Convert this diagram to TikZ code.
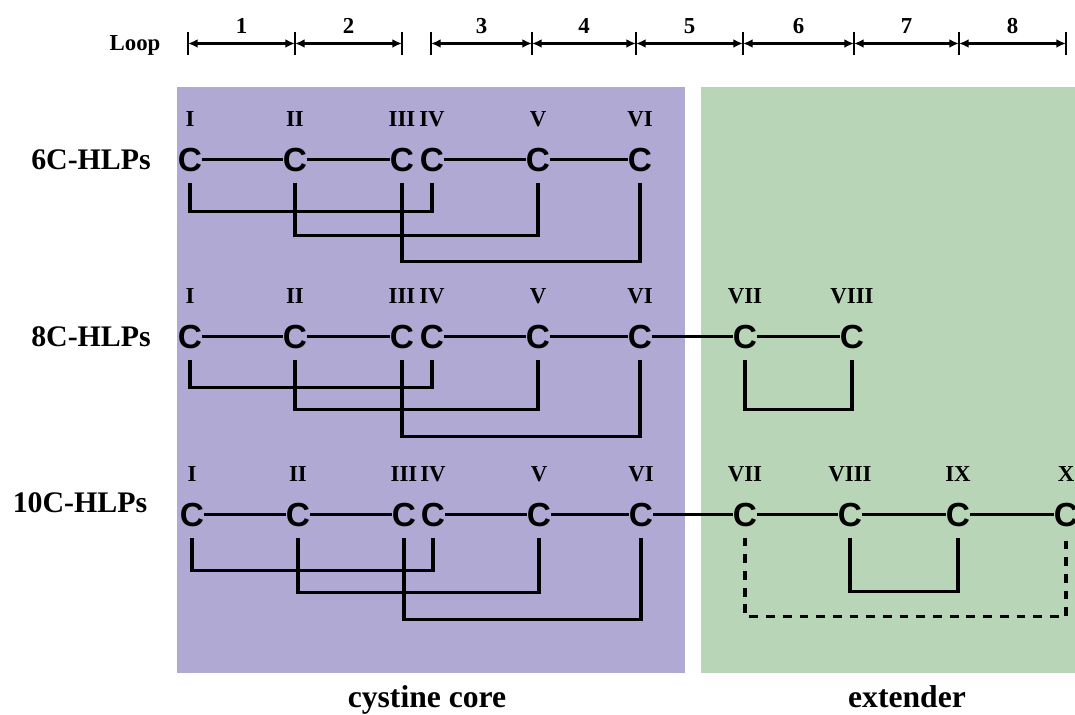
\documentclass[tikz,border=0pt]{standalone}
\usepackage{fontspec}
\setmainfont{Liberation Serif}
\newfontfamily\cysfont{Liberation Sans}
\usetikzlibrary{arrows.meta, positioning}

\definecolor{corebg}{RGB}{176,169,212}
\definecolor{extbg}{RGB}{185,213,184}

\tikzset{
  cys/.style = {inner sep=0pt, font=\cysfont\bfseries\fontsize{19}{22}\selectfont},
  num/.style = {inner sep=0pt, font=\bfseries\fontsize{13}{15}\selectfont},
  rowname/.style = {inner sep=0pt, font=\bfseries\fontsize{17}{20}\selectfont},
  panelname/.style = {inner sep=0pt, anchor=base, font=\bfseries\fontsize{18}{21}\selectfont},
  bond/.style = {line width=1.7pt},
  ssbond/.style = {line width=1.8pt},
  looparrow/.style = {line width=1.2pt, {Latex[length=5.5pt,width=5pt]}-{Latex[length=5.5pt,width=5pt]}}
}

\begin{document}
\begin{tikzpicture}[x=0.02cm, y=0.02cm]
  \useasboundingbox (0,0) rectangle (1075,715);

  % Panels
  \fill[corebg] (177,42) rectangle (685,628);
  \fill[extbg] (701,42) rectangle (1075,628);
  \node[panelname] (core) at (427,7) {cystine core};
  \node[panelname] (ext) at (907,7) {extender};

  % Loop scale
  \node[num] (loop) at (135,670) {Loop};
  \foreach \x [count=\i from 0] in {188,295,402,431,532,636,743,854,959,1066}
    \draw[line width=1.2pt] (\x,660) -- (\x,683) coordinate[pos=0.5] (tk\i);
  \foreach \a/\b/\n in {0/1/1, 1/2/2, 3/4/3, 4/5/4, 5/6/5, 6/7/6, 7/8/7, 8/9/8}
    \draw[looparrow] (tk\a) -- (tk\b) node[midway, above=5pt, num] (lp\n) {\n};

  % 6C-HLPs
  \node[rowname] (r6) at (91,555) {6C-HLPs};
  \foreach \x/\n [count=\i] in {190/I, 295/II, 402/III, 432/IV, 538/V, 640/VI} {
    \node[cys] (a\i) at (\x,555) {C};
    \node[num, above=12pt of a\i] (a\i n) {\n};
  }
  \foreach \i/\j in {1/2, 2/3, 4/5, 5/6}
    \draw[bond] (a\i) -- (a\j);
  \draw[ssbond] ([yshift=-6pt]a1.south) -- ++(0,-29) -| ([yshift=-6pt]a4.south);
  \draw[ssbond] ([yshift=-6pt]a2.south) -- ++(0,-53) -| ([yshift=-6pt]a5.south);
  \draw[ssbond] ([yshift=-6pt]a3.south) -- ++(0,-79) -| ([yshift=-6pt]a6.south);

  % 8C-HLPs
  \node[rowname] (r8) at (91,378) {8C-HLPs};
  \foreach \x/\n [count=\i] in {190/I, 295/II, 402/III, 432/IV, 538/V, 640/VI, 745/VII, 852/VIII} {
    \node[cys] (b\i) at (\x,378) {C};
    \node[num, above=12pt of b\i] (b\i n) {\n};
  }
  \foreach \i/\j in {1/2, 2/3, 4/5, 5/6, 6/7, 7/8}
    \draw[bond] (b\i) -- (b\j);
  \draw[ssbond] ([yshift=-6pt]b1.south) -- ++(0,-28) -| ([yshift=-6pt]b4.south);
  \draw[ssbond] ([yshift=-6pt]b2.south) -- ++(0,-50) -| ([yshift=-6pt]b5.south);
  \draw[ssbond] ([yshift=-6pt]b3.south) -- ++(0,-77) -| ([yshift=-6pt]b6.south);
  \draw[ssbond] ([yshift=-6pt]b7.south) -- ++(0,-50) -| ([yshift=-6pt]b8.south);

  % 10C-HLPs
  \node[rowname] (r10) at (80,212) {10C-HLPs};
  \foreach \x/\n [count=\i] in {192/I, 298/II, 404/III, 433/IV, 539/V, 641/VI, 745/VII, 850/VIII, 958/IX, 1066/X} {
    \node[cys] (c\i) at (\x,200) {C};
    \node[num, above=12pt of c\i] (c\i n) {\n};
  }
  \foreach \i/\j in {1/2, 2/3, 4/5, 5/6, 6/7, 7/8, 8/9, 9/10}
    \draw[bond] (c\i) -- (c\j);
  \draw[ssbond] ([yshift=-6pt]c1.south) -- ++(0,-33) -| ([yshift=-6pt]c4.south);
  \draw[ssbond] ([yshift=-6pt]c2.south) -- ++(0,-55) -| ([yshift=-6pt]c5.south);
  \draw[ssbond] ([yshift=-6pt]c3.south) -- ++(0,-82) -| ([yshift=-6pt]c6.south);
  \draw[ssbond] ([yshift=-6pt]c8.south) -- ++(0,-54) -| ([yshift=-6pt]c9.south);
  \draw[ssbond, dash pattern=on 5pt off 4.5pt] ([yshift=-6pt]c7.south) -- ++(0,-79) -| ([yshift=-6pt]c10.south);

\end{tikzpicture}
\end{document}
